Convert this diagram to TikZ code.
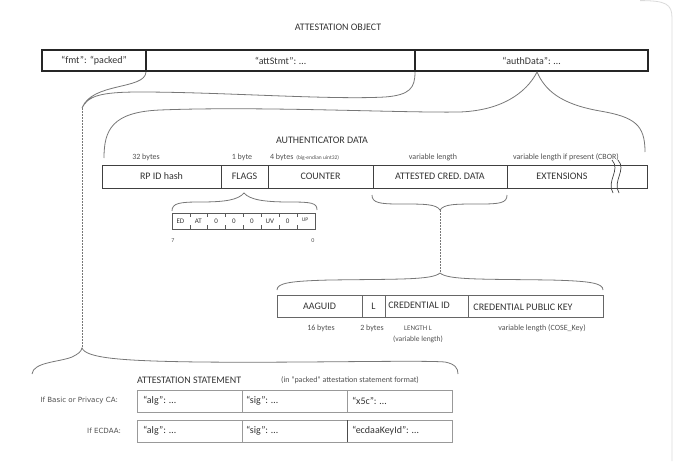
\documentclass[tikz,border=0pt]{standalone}
\usepackage{fontspec}
\setmainfont{Carlito}
\newfontfamily\djv{DejaVu Sans}
\definecolor{txtc}{HTML}{333333}
\definecolor{lblc}{HTML}{505050}
\definecolor{bracec}{HTML}{777777}
\definecolor{framec}{HTML}{DADADA}
\begin{document}
\begin{tikzpicture}[x=1pt,y=-1pt,
  base/.style={inner sep=0pt, outer sep=0pt, text=txtc, font=\fontsize{10}{12}\selectfont},
  ttl/.style={base, font=\fontsize{10}{12}\selectfont},
  tbox/.style={base, draw=black!85, line width=1.2pt, minimum height=21pt},
  abox/.style={base, draw=black!75, line width=0.9pt, minimum height=23pt},
  cbox/.style={base, draw=black!60, line width=0.8pt, minimum height=22pt},
  sbox/.style={base, draw=black!40, line width=0.8pt, minimum height=22pt},
  fbox/.style={base, draw=black!65, line width=0.7pt, minimum width=143pt, minimum height=16pt},
  small/.style={base, text=lblc, font=\fontsize{8}{9}\selectfont},
  tiny/.style={base, text=lblc, font=\fontsize{5.5}{6}\selectfont},
  flg/.style={base, font=\fontsize{7}{8}\selectfont},
  side/.style={base, text=lblc, font=\djv\fontsize{7.1}{8}\selectfont},
  bracel/.style={draw=bracec, line width=0.8pt},
  dashl/.style={draw=bracec, line width=0.6pt, dash pattern=on 1.5pt off 1.5pt},
  tick/.style={draw=black!65, line width=0.6pt}]
\useasboundingbox (0,0) rectangle (677,461);
\draw[framec, line width=0.8pt] (640,0.6) .. controls (666,0.6) and (672,4) .. (672,18) -- (672,461);

% ---------- attestation object ----------
\node[ttl] (title) at (338,27) {ATTESTATION OBJECT};
\node[tbox, minimum width=104pt] (fmt) at (94,60.5) {“fmt”: “packed”};
\node[tbox, minimum width=269pt] (att) at (280.5,60.5) {“attStmt”: …};
\node[tbox, minimum width=233pt] (auth) at (531.5,60.5) {“authData”: …};

% ---------- brace attStmt ----------
\coordinate (a1) at (146,72);
\coordinate (atip) at (82,108);
\coordinate (a2) at (415,72);
\draw[bracel] (a1) .. controls (145,90) and (92,82) .. (atip)
  .. controls (88,96) and (100,92) .. (140,92)
  .. controls (220,92) and (330,100) .. (385,97)
  .. controls (410,95) and (415,88) .. (a2);

% ---------- brace authData ----------
\coordinate (btip) at (537,72);
\coordinate (b1) at (104,158);
\coordinate (b2) at (645,152);
\draw[bracel] (b1) .. controls (104,130) and (112,112) .. (160,110)
  .. controls (260,106) and (400,113) .. (460,112)
  .. controls (510,110) and (530,86) .. (btip)
  .. controls (545,90) and (560,104) .. (600,111)
  .. controls (635,117) and (645,125) .. (b2);

% ---------- authenticator data ----------
\node[ttl] (adtitle) at (322,140) {AUTHENTICATOR DATA};
\node[abox, minimum width=119pt] (rpid) at (161.5,176.5) {RP ID hash};
\node[abox, minimum width=47pt] (flags) at (244.5,176.5) {FLAGS};
\node[abox, minimum width=105pt] (counter) at (320.5,176.5) {COUNTER};
\node[abox, minimum width=134pt] (acd) at (440,176.5) {ATTESTED CRED. DATA};
\node[abox, minimum width=140pt] (ext) at (577,176.5) {};
\node[base] (extlbl) at (562,176.5) {EXTENSIONS};
\draw[black!75, line width=0.7pt] (612,160) .. controls (621,170) and (606,181) .. (613,193);
\draw[black!75, line width=0.7pt] (618,160) .. controls (627,170) and (612,181) .. (619,193);

\node[small] (l32) at (146,157.5) {32 bytes};
\node[small] (l1) at (242,157.5) {1 byte};
\node[small, anchor=west] (l4) at (270,157.5) {4 bytes};
\node[tiny, anchor=west] (l4b) at ([xshift=3pt]l4.east) {(big-endian uint32)};
\node[small] (lvar) at (433,157.5) {variable length};
\node[small] (lvar2) at (566,157.5) {variable length if present (CBOR)};

% ---------- flags ----------
\coordinate (c1) at (172,211);
\coordinate (ctip) at (244,193);
\coordinate (c2) at (317,210);
\draw[bracel] (c1) .. controls (172,203) and (180,202) .. (200,202)
  .. controls (225,202) and (238,200) .. (ctip)
  .. controls (250,200) and (265,202) .. (290,202)
  .. controls (312,202) and (317,203) .. (c2);
\node[fbox] (fb) at (243.5,221) {};
\foreach \i in {1,...,7} {
  \draw[tick] ([xshift=\i*17.875pt]fb.north west) -- ++(0,4);
  \draw[tick] ([xshift=\i*17.875pt]fb.south west) -- ++(0,-4);
}
\foreach \t [count=\i] in {ED,AT,0,0,0,UV,0} {
  \node[flg] (fl\i) at (172+\i*17.875-9.5,221) {\t};
}
\node[flg, font=\fontsize{5.5}{6}\selectfont] (fl8) at (305,219.5) {UP};
\node[tiny, font=\fontsize{6}{7}\selectfont] (b7) at (173,241) {7};
\node[tiny, font=\fontsize{6}{7}\selectfont] (b0) at (313,241) {0};

% ---------- attested credential data ----------
\coordinate (d1) at (372,195);
\coordinate (dtip) at (440,210);
\coordinate (d2) at (507,195);
\draw[bracel] (d1) .. controls (372,203) and (380,204) .. (400,204)
  .. controls (425,204) and (436,204) .. (dtip)
  .. controls (444,204) and (455,204) .. (480,204)
  .. controls (500,204) and (507,203) .. (d2);
\coordinate (etip) at (440,273);
\draw[dashl] (dtip) -- (etip);
\coordinate (e1) at (277,290);
\coordinate (e2) at (603,290);
\draw[bracel] (e1) .. controls (277,283) and (290,281) .. (330,280)
  .. controls (400,279) and (432,280) .. (etip)
  .. controls (448,280) and (480,279) .. (550,280)
  .. controls (590,281) and (603,283) .. (e2);

\node[cbox, minimum width=85pt] (aaguid) at (319.5,306) {AAGUID};
\node[cbox, minimum width=23pt] (lbox) at (373.5,306) {L};
\node[cbox, minimum width=83pt] (credid) at (426.5,306) {};
\node[base] (credidl) at (419,305) {CREDENTIAL ID};
\node[cbox, minimum width=135pt] (cpk) at (535.5,306) {};
\node[base] (cpkl) at (523,307) {CREDENTIAL PUBLIC KEY};

\node[small] (l16) at (321,328.5) {16 bytes};
\node[small] (l2) at (372,328.5) {2 bytes};
\node[small, font=\fontsize{7}{8}\selectfont] (lenl) at (418,328.5) {LENGTH L};
\node[small, font=\fontsize{7.5}{8}\selectfont] (varl) at (418,339) {(variable length)};
\node[small] (cose) at (542,328.5) {variable length (COSE\_Key)};

% ---------- attestation statement ----------
\coordinate (ftip) at (82,348);
\draw[dashl] (atip) -- (ftip);
\coordinate (f1) at (32,374);
\coordinate (f2) at (458,374);
\draw[bracel] (f1) .. controls (33,362) and (60,362) .. (72,357)
  .. controls (78,354) and (81,352) .. (ftip)
  .. controls (86,358) and (120,361) .. (200,362)
  .. controls (300,363) and (420,360) .. (445,362)
  .. controls (455,364) and (458,368) .. (f2);

\node[ttl, anchor=west] (sttitle) at (137,380) {ATTESTATION STATEMENT};
\node[small, font=\fontsize{8}{9}\selectfont] (stnote) at (350,380) {(in "packed" attestation statement format)};

\node[side, anchor=east] (ifb) at (118,401) {If Basic or Privacy CA:};
\node[side, anchor=east] (ife) at (121,431) {If ECDAA:};

\node[sbox, minimum width=105pt] (s11) at (189.5,401) {};
\node[sbox, minimum width=105pt] (s12) at (294.5,401) {};
\node[sbox, minimum width=105pt] (s13) at (399.5,401) {};
\node[sbox, minimum width=105pt] (s21) at (189.5,431) {};
\node[sbox, minimum width=105pt] (s22) at (294.5,431) {};
\node[sbox, minimum width=105pt] (s23) at (399.5,431) {};
\draw[black!70, line width=0.8pt] (s22.north east) -- (s22.south east);

\node[base, anchor=west] (t11) at ([xshift=6pt]s11.west) {“alg”: …};
\node[base, anchor=west] (t12) at ([xshift=4pt]s12.west) {“sig”: …};
\node[base, anchor=west] (t13) at ([xshift=5pt]s13.west) {“x5c”: …};
\node[base, anchor=west] (t21) at ([xshift=6pt]s21.west) {“alg”: …};
\node[base, anchor=west] (t22) at ([xshift=4pt]s22.west) {“sig”: …};
\node[base, anchor=west] (t23) at ([xshift=5pt]s23.west) {“ecdaaKeyId”: …};
\end{tikzpicture}
\end{document}
